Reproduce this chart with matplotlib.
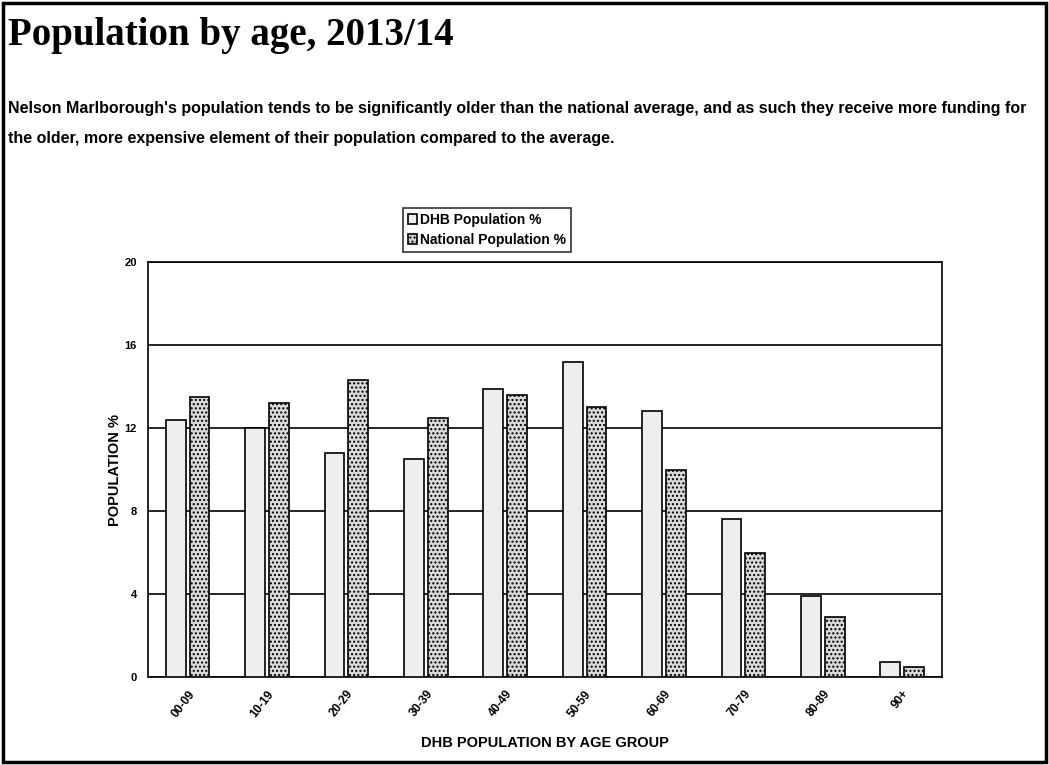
import matplotlib.pyplot as plt
import numpy as np
from matplotlib.patches import Rectangle

age_groups = ["00-09", "10-19", "20-29", "30-39", "40-49",
              "50-59", "60-69", "70-79", "80-89", "90+"]
dhb_pct = [12.4, 12.0, 10.8, 10.5, 13.9, 15.2, 12.8, 7.6, 3.9, 0.7]
national_pct = [13.5, 13.2, 14.3, 12.5, 13.6, 13.0, 10.0, 6.0, 2.9, 0.5]
y_ticks = [0, 4, 8, 12, 16, 20]

title = "Population by age, 2013/14"
blurb = ("Nelson Marlborough's population tends to be significantly older than the national average, "
         "and as such they receive more funding for\nthe older, more expensive element of their "
         "population compared to the average.")

narrow = ["DejaVu Sans Condensed", "Liberation Sans", "DejaVu Sans"]

fig = plt.figure(figsize=(10.49, 7.65), dpi=100)
fig.patches.append(Rectangle((0.003, 0.004), 0.994, 0.992, transform=fig.transFigure,
                             fill=False, edgecolor="black", linewidth=2.5))

fig.text(0.008, 0.953, title, family=["Liberation Serif", "DejaVu Serif"],
         fontsize=28, fontweight="bold", va="center", ha="left")
fig.text(0.008, 0.839, blurb, family=narrow, fontsize=11.5, fontweight="bold",
         va="center", ha="left", linespacing=2.25)

ax = fig.add_axes([0.141, 0.115, 0.757, 0.5425])
x = np.arange(len(age_groups))
w = 0.25
ax.bar(x - 0.15, dhb_pct, w, color="#eeeeee", edgecolor="black", linewidth=1.2,
       label="DHB Population %", zorder=3)
ax.bar(x + 0.15, national_pct, w, color="#d9d9d9", edgecolor="black", linewidth=1.2,
       hatch="....", label="National Population %", zorder=3)

ax.set_xlim(-0.5, len(age_groups) - 0.5)
ax.set_ylim(0, 20)
ax.set_yticks(y_ticks)
ax.set_yticklabels([str(t) for t in y_ticks], family=narrow, fontsize=8, fontweight="bold")
ax.yaxis.grid(True, color="black", linewidth=1.2, zorder=0)
ax.set_axisbelow(True)
ax.set_xticks(x)
ax.set_xticklabels(age_groups, rotation=52, ha="right", rotation_mode="anchor",
                   family=narrow, fontsize=8.5, fontweight="bold")
ax.tick_params(length=0, pad=8)
for s in ax.spines.values():
    s.set_linewidth(1.2)

ax.set_ylabel("POPULATION %", family=narrow, fontsize=10.5, fontweight="bold", labelpad=2)
ax.set_xlabel("DHB POPULATION BY AGE GROUP", family=narrow, fontsize=10.5,
              fontweight="bold", labelpad=12)

leg = ax.legend(loc="lower center", bbox_to_anchor=(0.427, 1.025), frameon=True,
                fancybox=False, edgecolor="black", handlelength=0.7, handleheight=0.7,
                handletextpad=0.2, borderpad=0.35, labelspacing=0.45,
                borderaxespad=0.0,
                prop={"family": narrow, "size": 10, "weight": "bold"})
leg.get_frame().set_linewidth(1.2)

fig.savefig("out.png", dpi=100)
